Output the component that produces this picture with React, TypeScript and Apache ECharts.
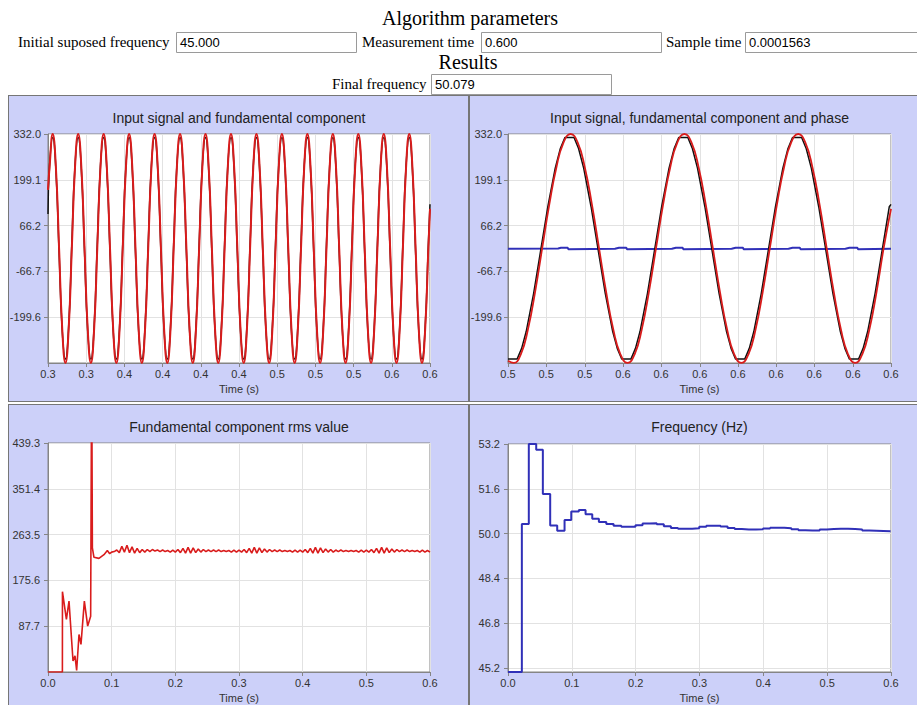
import React, { useEffect, useRef } from "react";
import * as echarts from "echarts";

const SANS = '"Liberation Sans", Arial, sans-serif';
const SERIF = '"Liberation Serif", "Times New Roman", serif';
const PANEL_BG = "#ccd0f9";
const AXIS_COLOR = "#858585";
const GRID_COLOR = "#e2e2e2";
const TEXT_COLOR = "#333333";
const RED = "#d91c1c";
const BLACK = "#111111";
const BLUE = "#3030b8";

// ---------------- header texts ----------------
const headingParams = "Algorithm parameters";
const headingResults = "Results";
const paramLabels = ["Initial suposed frequency", "Measurement time", "Sample time"];
const paramValues = ["45.000", "0.600", "0.0001563"];
const resultLabel = "Final frequency";
const resultValue = "50.079";

// ---------------- panel titles ----------------
const titleTL = "Input signal and fundamental component";
const titleTR = "Input signal, fundamental component and phase";
const titleBL = "Fundamental component rms value";
const titleBR = "Frequency (Hz)";
const timeAxisName = "Time (s)";

// ---------------- axis ticks / labels ----------------
const ySignalMin = -332.3;
const ySignalMax = 332.0;
const ySignalTicks = [-199.6, -66.7, 66.2, 199.1, 332.0];
const ySignalLabels = ["-199.6", "-66.7", "66.2", "199.1", "332.0"];

const xTLMin = 0.3;
const xTLMax = 0.6;
const xTLTicks = [0.3, 0.33, 0.36, 0.39, 0.42, 0.45, 0.48, 0.51, 0.54, 0.57, 0.6];
const xTLLabels = ["0.3", "0.3", "0.4", "0.4", "0.4", "0.4", "0.5", "0.5", "0.5", "0.6", "0.6"];

const xTRMin = 0.5327;
const xTRMax = 0.6;
const xTRTicks = [0.5327, 0.5394, 0.5462, 0.5529, 0.5596, 0.5664, 0.5731, 0.5798, 0.5865, 0.5933, 0.6];
const xTRLabels = ["0.5", "0.5", "0.5", "0.6", "0.6", "0.6", "0.6", "0.6", "0.6", "0.6", "0.6"];

const xTimeMin = 0;
const xTimeMax = 0.6;
const xTimeTicks = [0, 0.1, 0.2, 0.3, 0.4, 0.5, 0.6];
const xTimeLabels = ["0.0", "0.1", "0.2", "0.3", "0.4", "0.5", "0.6"];

const yRmsMin = 0;
const yRmsMax = 439.3;
const yRmsTicks = [87.7, 175.6, 263.5, 351.4, 439.3];
const yRmsLabels = ["87.7", "175.6", "263.5", "351.4", "439.3"];

const yFreqMin = 45.05;
const yFreqMax = 53.2;
const yFreqTicks = [45.2, 46.8, 48.4, 50.0, 51.6, 53.2];
const yFreqLabels = ["45.2", "46.8", "48.4", "50.0", "51.6", "53.2"];

// ---------------- top-left: 0.3 .. 0.6 s ----------------
const tlT0 = 0.3012;
const tlDt = 0.0025;
const tlFundFirst = [0.3, 170];
const tlFundLast = [0.6, 115];
const tlFundamental = [
  235, 332, 235, 0, -235, -332, -235, 0,
  235, 332, 235, 0, -235, -332, -235, 0,
  235, 332, 235, 0, -235, -332, -235, 0,
  235, 332, 235, 0, -235, -332, -235, 0,
  235, 332, 235, 0, -235, -332, -235, 0,
  235, 332, 235, 0, -235, -332, -235, 0,
  235, 332, 235, 0, -235, -332, -235, 0,
  235, 332, 235, 0, -235, -332, -235, 0,
  235, 332, 235, 0, -235, -332, -235, 0,
  235, 332, 235, 0, -235, -332, -235, 0,
  235, 332, 235, 0, -235, -332, -235, 0,
  235, 332, 235, 0, -235, -332, -235, 0,
  235, 332, 235, 0, -235, -332, -235, 0,
  235, 332, 235, 0, -235, -332, -235, 0,
  235, 332, 235, 0, -235, -332, -235, 0,
];
const tlInputFirst = [0.3, 100];
const tlInputLast = [0.6, 128];
const tlInput = [
  240, 322, 228, -12, -240, -321, -228, 12,
  240, 322, 228, -12, -240, -321, -228, 12,
  240, 322, 228, -12, -240, -321, -228, 12,
  240, 322, 228, -12, -240, -321, -228, 12,
  240, 322, 228, -12, -240, -321, -228, 12,
  240, 322, 228, -12, -240, -321, -228, 12,
  240, 322, 228, -12, -240, -321, -228, 12,
  240, 322, 228, -12, -240, -321, -228, 12,
  240, 322, 228, -12, -240, -321, -228, 12,
  240, 322, 228, -12, -240, -321, -228, 12,
  240, 322, 228, -12, -240, -321, -228, 12,
  240, 322, 228, -12, -240, -321, -228, 12,
  240, 322, 228, -12, -240, -321, -228, 12,
  240, 322, 228, -12, -240, -321, -228, 12,
  240, 322, 228, -12, -240, -321, -228, 12,
];

// ---------------- top-right: last 0.067 s ----------------
const trT0 = 0.5337;
const trDt = 0.00125;
const trFundFirst = [0.5327, -326];
const trFundLast = [0.6, 115];
const trFundamental = [
  -332, -307, -235, -127, 0, 127, 235, 307, 332, 307, 235, 127, 0, -127, -235, -307,
  -332, -307, -235, -127, 0, 127, 235, 307, 332, 307, 235, 127, 0, -127, -235, -307,
  -332, -307, -235, -127, 0, 127, 235, 307, 332, 307, 235, 127, 0, -127, -235, -307,
  -332, -307, -235, -127, 0,
];
const trInput = [
  [0.5327, -321], [0.5343, -321], [0.5351, -290], [0.5359, -241], [0.5372, -131], [0.5385, 0],
  [0.5397, 121], [0.541, 233], [0.5419, 290], [0.5427, 322], [0.5443, 322], [0.5451, 290],
  [0.546, 233], [0.5473, 121], [0.5485, 0], [0.5498, -131], [0.5511, -241], [0.5519, -290],
  [0.5527, -321], [0.5543, -321], [0.5551, -290], [0.5559, -241], [0.5572, -131], [0.5585, 0],
  [0.5597, 121], [0.561, 233], [0.5619, 290], [0.5627, 322], [0.5643, 322], [0.5651, 290],
  [0.566, 233], [0.5673, 121], [0.5685, 0], [0.5698, -131], [0.5711, -241], [0.5719, -290],
  [0.5727, -321], [0.5743, -321], [0.5751, -290], [0.5759, -241], [0.5772, -131], [0.5785, 0],
  [0.5797, 121], [0.581, 233], [0.5819, 290], [0.5827, 322], [0.5843, 322], [0.5851, 290],
  [0.586, 233], [0.5873, 121], [0.5885, 0], [0.5898, -131], [0.5911, -241], [0.5919, -290],
  [0.5927, -321], [0.5943, -321], [0.5951, -290], [0.5959, -241], [0.5972, -131], [0.5985, 0],
  [0.5997, 121], [0.6, 128],
];
const trPhase = [
  [0.5327, -1], [0.5415, 0], [0.542, 2], [0.5432, 2], [0.5433, -2],
  [0.5515, -1], [0.5522, 2], [0.5535, 2], [0.5536, -2],
  [0.5615, -1], [0.5622, 2], [0.5634, 2], [0.5635, -2],
  [0.572, -1], [0.5727, 2], [0.574, 2], [0.5741, -2],
  [0.582, -1], [0.5827, 2], [0.584, 2], [0.5841, -2],
  [0.592, -1], [0.5927, 2], [0.5941, 2], [0.5942, -2],
  [0.6, -1],
];

// ---------------- bottom-left: rms value ----------------
const rmsTransient = [
  [0, 0], [0.0226, 0], [0.0227, 154], [0.0289, 101], [0.033, 136], [0.0393, 21],
  [0.0424, 31], [0.045, 3], [0.0487, 72], [0.0518, 53], [0.0571, 136], [0.0623, 88],
  [0.067, 107], [0.0686, 600], [0.0697, 238], [0.0722, 220], [0.08, 218], [0.0879, 225],
  [0.0932, 233], [0.0969, 227], [0.1, 230],
];
const rmsT0 = 0.104;
const rmsDt = 0.004;
const rmsSteady = [
  231, 234, 229, 241, 230, 243, 229, 240, 228, 237, 229, 235, 230, 235, 231, 235,
  232, 234, 231, 234, 231, 233, 230, 234, 230, 235, 229, 237, 228, 239, 228, 238,
  229, 236, 230, 235, 231, 234, 231, 234, 231, 234, 231, 233, 231, 233, 230, 234,
  230, 234, 230, 235, 229, 237, 228, 239, 228, 238, 229, 236, 230, 235, 231, 234,
  231, 234, 231, 233, 231, 233, 230, 234, 230, 234, 230, 235, 229, 237, 228, 239,
  228, 238, 229, 236, 230, 235, 230, 234, 231, 234, 231, 233, 231, 233, 231, 233,
  230, 234, 230, 234, 230, 235, 229, 237, 228, 239, 228, 238, 229, 236, 230, 235,
  231, 234, 231, 234, 231, 233, 231, 233, 230, 234, 230, 233, 230,
];

// ---------------- bottom-right: frequency ----------------
const freqTimes = [
  0, 0.0217, 0.0326, 0.0442, 0.0546, 0.0661, 0.0771, 0.0886, 0.0991, 0.111, 0.1215,
  0.132, 0.1424, 0.154, 0.1654, 0.1775, 0.1886, 0.1997, 0.2108, 0.2219, 0.233, 0.2441,
  0.2552, 0.2663, 0.2774, 0.2885, 0.2996, 0.3107, 0.3218, 0.3329, 0.344, 0.3551, 0.3662,
  0.3773, 0.3884, 0.3995, 0.4106, 0.4217, 0.4328, 0.4439, 0.455, 0.4661, 0.4772, 0.4883,
  0.4994, 0.5105, 0.5216, 0.5327, 0.5438, 0.5549, 0.566, 0.5771, 0.5882, 0.5993, 0.6,
];
const freqValues = [
  45.05, 50.34, 53.2, 52.99, 51.41, 50.29, 50.1, 50.48, 50.79, 50.84, 50.69,
  50.53, 50.41, 50.34, 50.28, 50.24, 50.24, 50.3, 50.36, 50.37, 50.33, 50.26,
  50.2, 50.17, 50.17, 50.19, 50.24, 50.28, 50.28, 50.25, 50.2, 50.16, 50.14,
  50.14, 50.15, 50.18, 50.21, 50.21, 50.19, 50.15, 50.12, 50.11, 50.11, 50.14,
  50.16, 50.17, 50.17, 50.16, 50.14, 50.11, 50.1, 50.09, 50.08, 50.08, 50.08,
];

// ---------------- helpers ----------------
function uniform(t0, dt, values) {
  return values.map((v, i) => [t0 + i * dt, v]);
}

function labelFor(ticks, labels) {
  return (v) => {
    let best = 0;
    let d = Infinity;
    for (let i = 0; i < ticks.length; i++) {
      const dd = Math.abs(ticks[i] - v);
      if (dd < d) {
        d = dd;
        best = i;
      }
    }
    return labels[best];
  };
}

function lineSeries(data, color, width, extra) {
  return Object.assign(
    {
      type: "line",
      data,
      symbol: "none",
      showSymbol: false,
      silent: true,
      clip: true,
      lineStyle: { color, width },
      itemStyle: { color },
    },
    extra || {}
  );
}

function buildOption(cfg) {
  const g = cfg.grid;
  return {
    animation: false,
    backgroundColor: PANEL_BG,
    graphic: [
      {
        type: "text",
        x: g.left + g.width / 2,
        y: 22,
        silent: true,
        style: {
          text: cfg.title,
          font: `14px ${SANS}`,
          fill: "#222222",
          align: "center",
          verticalAlign: "middle",
          textAlign: "center",
          textVerticalAlign: "middle",
        },
      },
    ],
    grid: {
      left: g.left,
      top: g.top,
      width: g.width,
      height: g.height,
      show: true,
      backgroundColor: "#ffffff",
      borderColor: AXIS_COLOR,
      borderWidth: 1,
      containLabel: false,
      outerBoundsMode: "none",
    },
    xAxis: {
      type: "value",
      min: cfg.xMin,
      max: cfg.xMax,
      name: timeAxisName,
      nameLocation: "middle",
      nameGap: 18,
      nameTextStyle: { fontSize: 11, color: TEXT_COLOR, fontFamily: SANS },
      axisLine: { show: true, onZero: false, lineStyle: { color: AXIS_COLOR } },
      axisTick: { show: true, length: 4, customValues: cfg.xTicks, lineStyle: { color: AXIS_COLOR } },
      axisLabel: {
        customValues: cfg.xTicks,
        formatter: labelFor(cfg.xTicks, cfg.xLabels),
        margin: 5,
        fontSize: 11,
        color: TEXT_COLOR,
        fontFamily: SANS,
      },
      splitLine: { show: true, lineStyle: { color: GRID_COLOR, width: 1 } },
    },
    yAxis: {
      type: "value",
      min: cfg.yMin,
      max: cfg.yMax,
      axisLine: { show: true, onZero: false, lineStyle: { color: AXIS_COLOR } },
      axisTick: { show: true, length: 4, customValues: cfg.yTicks, lineStyle: { color: AXIS_COLOR } },
      axisLabel: {
        customValues: cfg.yTicks,
        formatter: labelFor(cfg.yTicks, cfg.yLabels),
        margin: cfg.yMargin,
        fontSize: 11,
        color: TEXT_COLOR,
        fontFamily: SANS,
      },
      splitLine: { show: true, lineStyle: { color: GRID_COLOR, width: 1 } },
    },
    series: cfg.series,
  };
}

// ---------------- options ----------------
const optionTL = buildOption({
  title: titleTL,
  grid: { left: 39, top: 38, width: 382, height: 229 },
  xMin: xTLMin, xMax: xTLMax, xTicks: xTLTicks, xLabels: xTLLabels,
  yMin: ySignalMin, yMax: ySignalMax, yTicks: ySignalTicks, yLabels: ySignalLabels, yMargin: 7,
  series: [
    lineSeries([tlInputFirst, ...uniform(tlT0, tlDt, tlInput), tlInputLast], BLACK, 1.5, { smooth: true }),
    lineSeries([tlFundFirst, ...uniform(tlT0, tlDt, tlFundamental), tlFundLast], RED, 2, { smooth: true }),
  ],
});

const optionTR = buildOption({
  title: titleTR,
  grid: { left: 38, top: 38, width: 383, height: 229 },
  xMin: xTRMin, xMax: xTRMax, xTicks: xTRTicks, xLabels: xTRLabels,
  yMin: ySignalMin, yMax: ySignalMax, yTicks: ySignalTicks, yLabels: ySignalLabels, yMargin: 6,
  series: [
    lineSeries(trPhase, BLUE, 2),
    lineSeries(trInput, BLACK, 1.5),
    lineSeries([trFundFirst, ...uniform(trT0, trDt, trFundamental), trFundLast], RED, 1.8, { smooth: true }),
  ],
});

const optionBL = buildOption({
  title: titleBL,
  grid: { left: 39, top: 38, width: 382, height: 229 },
  xMin: xTimeMin, xMax: xTimeMax, xTicks: xTimeTicks, xLabels: xTimeLabels,
  yMin: yRmsMin, yMax: yRmsMax, yTicks: yRmsTicks, yLabels: yRmsLabels, yMargin: 8,
  series: [lineSeries([...rmsTransient, ...uniform(rmsT0, rmsDt, rmsSteady)], RED, 1.6)],
});

const optionBR = buildOption({
  title: titleBR,
  grid: { left: 38, top: 39, width: 383, height: 228 },
  xMin: xTimeMin, xMax: xTimeMax, xTicks: xTimeTicks, xLabels: xTimeLabels,
  yMin: yFreqMin, yMax: yFreqMax, yTicks: yFreqTicks, yLabels: yFreqLabels, yMargin: 8,
  series: [lineSeries(freqTimes.map((t, i) => [t, freqValues[i]]), BLUE, 2, { step: "end" })],
});

// ---------------- header option ----------------
function headerText(text, x, y, size, family, align) {
  return {
    type: "text",
    x,
    y,
    silent: true,
    style: {
      text,
      font: `${size}px ${family}`,
      fill: "#000000",
      align,
      textAlign: align,
      verticalAlign: "middle",
      textVerticalAlign: "middle",
    },
  };
}
function headerBox(x, y, w, h) {
  return {
    type: "rect",
    silent: true,
    shape: { x: x + 0.5, y: y + 0.5, width: w, height: h },
    style: { fill: "#ffffff", stroke: "#9a9a9a", lineWidth: 1 },
  };
}

const headerOption = {
  animation: false,
  backgroundColor: "#ffffff",
  graphic: [
    headerText(headingParams, 470, 18, 20, SERIF, "center"),
    headerText(paramLabels[0], 18, 42, 15, SERIF, "left"),
    headerBox(176, 32, 180, 20),
    headerText(paramValues[0], 180, 42.5, 13, SANS, "left"),
    headerText(paramLabels[1], 362, 42, 15, SERIF, "left"),
    headerBox(481, 32, 180, 20),
    headerText(paramValues[1], 485, 42.5, 13, SANS, "left"),
    headerText(paramLabels[2], 666, 42, 15, SERIF, "left"),
    headerBox(745, 32, 180, 20),
    headerText(paramValues[2], 749, 42.5, 13, SANS, "left"),
    headerText(headingResults, 468, 62, 20, SERIF, "center"),
    headerText(resultLabel, 332, 84, 15, SERIF, "left"),
    headerBox(431, 74, 180, 20),
    headerText(resultValue, 435, 84.5, 13, SANS, "left"),
  ],
};

// ---------------- components ----------------
function EChart({ option, width, height }) {
  const ref = useRef(null);
  useEffect(() => {
    const chart = echarts.init(ref.current, null, { renderer: "svg" });
    chart.setOption(option);
    return () => chart.dispose();
  }, [option]);
  return <div ref={ref} style={{ width, height }} />;
}

function Panel({ left, top, option }) {
  const W = 461;
  const H = 307;
  return (
    <div
      style={{
        position: "absolute",
        left,
        top,
        width: W,
        height: H,
        boxSizing: "border-box",
        border: "1px solid #767676",
        background: PANEL_BG,
        overflow: "hidden",
      }}
    >
      <EChart option={option} width={W - 2} height={H - 2} />
    </div>
  );
}

export default function App() {
  return (
    <div
      style={{
        position: "absolute",
        left: 0,
        top: 0,
        width: 917,
        height: 705,
        overflow: "hidden",
        background: "#ffffff",
      }}
    >
      <div style={{ position: "absolute", left: 0, top: 0 }}>
        <EChart option={headerOption} width={917} height={95} />
      </div>
      <Panel left={8} top={95} option={optionTL} />
      <Panel left={469} top={95} option={optionTR} />
      <Panel left={8} top={404} option={optionBL} />
      <Panel left={469} top={404} option={optionBR} />
    </div>
  );
}
